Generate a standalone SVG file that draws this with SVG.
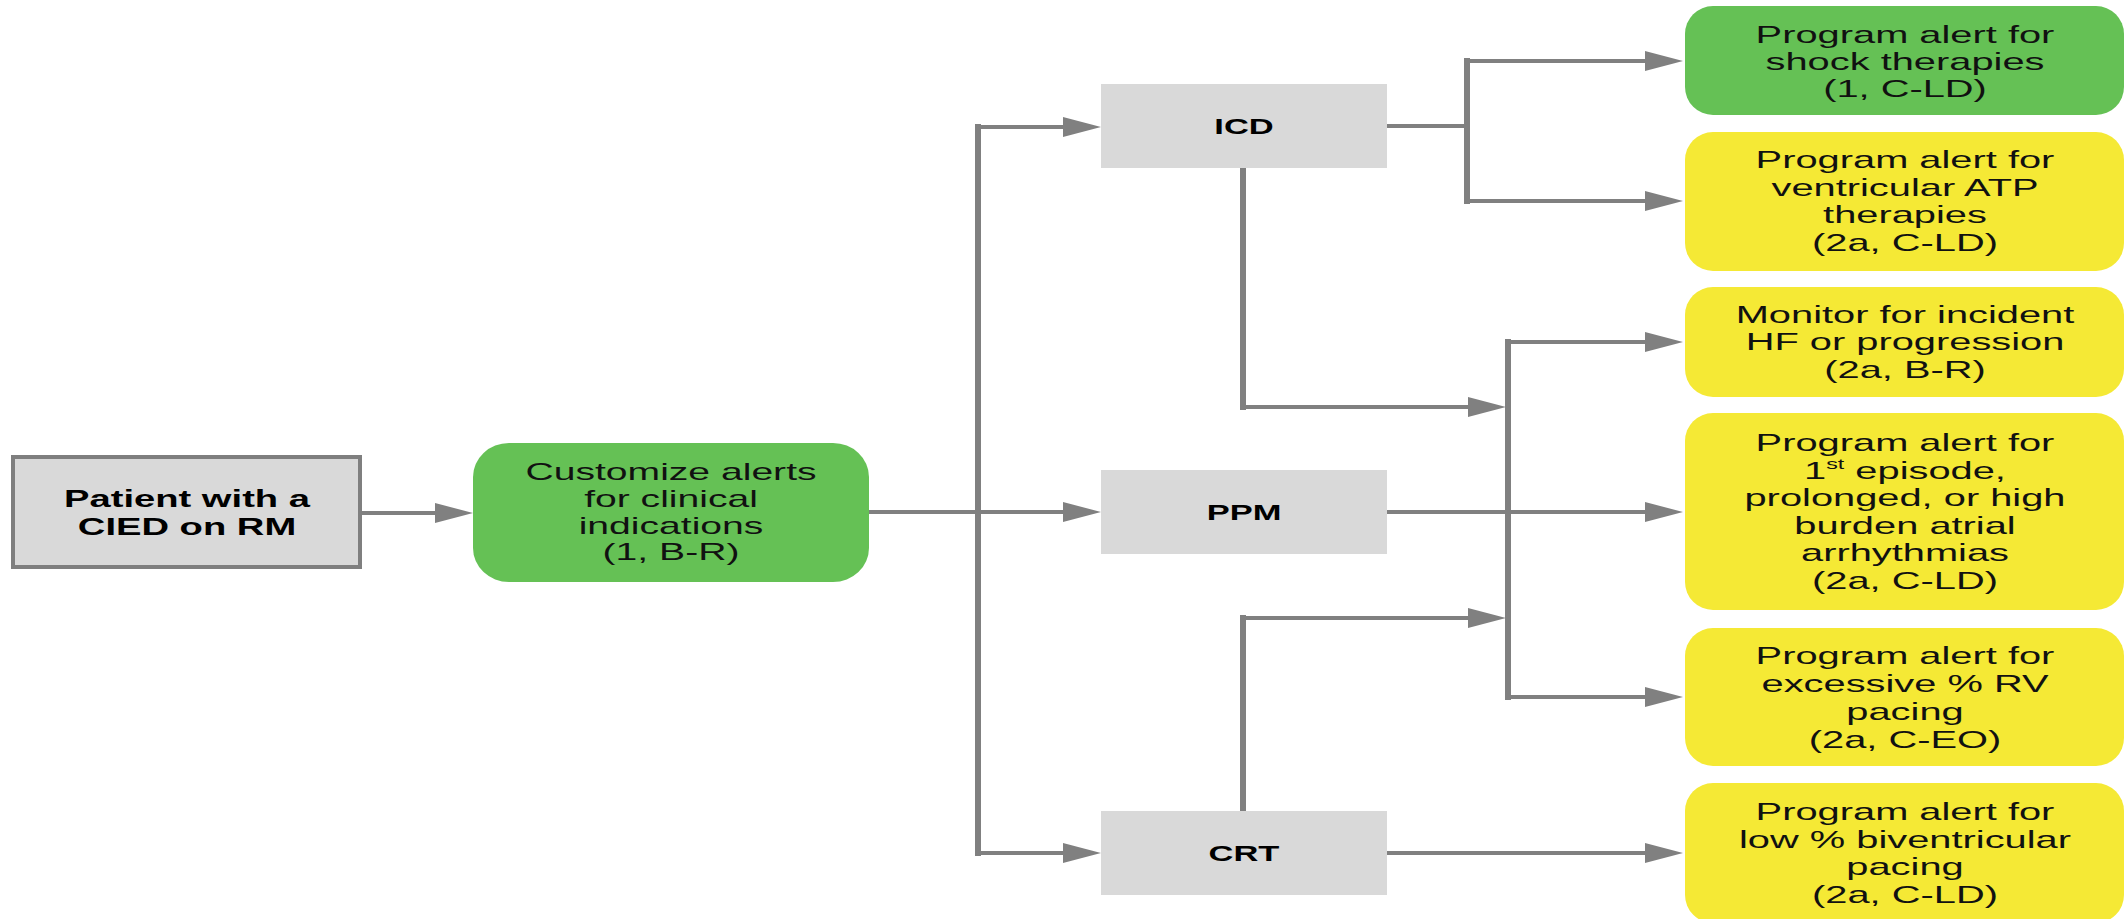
<svg xmlns="http://www.w3.org/2000/svg" width="2126" height="919" viewBox="0 0 2126 919">
  <defs>
    <style>
      .device { fill: #d9d9d9; }
      .start { fill: #d9d9d9; stroke: #7f7f7f; stroke-width: 4; }
      .green { fill: #65c155; }
      .yellow { fill: #f5e935; }
      .h { stroke: #808080; stroke-width: 4; fill: none; }
      .v { stroke: #808080; stroke-width: 6; fill: none; stroke-linecap: square; }
      .arr { marker-end: url(#head); }
      .t { font-family: "Liberation Sans", Arial, sans-serif; font-size: 24px; fill: #111; text-anchor: middle; }
      .c { font-family: "Liberation Sans", Arial, sans-serif; font-size: 23px; fill: #111; text-anchor: middle; }
      .b { font-family: "Liberation Sans", Arial, sans-serif; font-size: 23px; font-weight: bold; fill: #000; text-anchor: middle; }
    </style>
    <marker id="head" markerUnits="userSpaceOnUse" markerWidth="38" markerHeight="20" viewBox="0 0 38 20" refX="0" refY="10" orient="auto">
      <path d="M0,0 L38,10 L0,20 Z" fill="#808080"/>
    </marker>
  </defs>
  <rect width="2126" height="919" fill="#ffffff"/>

  <!-- connectors -->
  <g id="connectors">
    <!-- start to customize -->
    <path class="h arr" d="M360,513 H435"/>
    <!-- customize to trunk -->
    <path class="h" d="M869,512 H978"/>
    <path class="v" d="M978,127 V853"/>
    <path class="h arr" d="M978,127 H1063"/>
    <path class="h arr" d="M978,512 H1063"/>
    <path class="h arr" d="M978,853 H1063"/>
    <!-- ICD to its two alerts -->
    <path class="h" d="M1387,126 H1467"/>
    <path class="v" d="M1467,61 V201"/>
    <path class="h arr" d="M1467,61 H1645"/>
    <path class="h arr" d="M1467,201 H1645"/>
    <!-- ICD and CRT into shared bus -->
    <path class="v" d="M1243,168 V407"/>
    <path class="h arr" d="M1243,407 H1468"/>
    <path class="v" d="M1243,811 V618"/>
    <path class="h arr" d="M1243,618 H1468"/>
    <path class="v" d="M1508,342 V697"/>
    <path class="h arr" d="M1508,342 H1645"/>
    <path class="h arr" d="M1508,697 H1645"/>
    <!-- PPM straight through -->
    <path class="h arr" d="M1387,512 H1645"/>
    <!-- CRT to low BiV pacing -->
    <path class="h arr" d="M1387,853 H1645"/>
  </g>

  <g id="patient">
    <rect class="start" x="13" y="457" width="347" height="110"/>
    <text class="b" transform="translate(187,0) scale(1.66,1)"><tspan x="0" y="507">Patient with a</tspan><tspan x="0" y="535">CIED on RM</tspan></text>
  </g>

  <g id="customize">
    <rect class="green" x="473" y="443" width="396" height="139" rx="36" ry="34"/>
    <text class="c" transform="translate(671,0) scale(1.7,1)"><tspan x="0" y="480">Customize alerts</tspan><tspan x="0" y="507">for clinical</tspan><tspan x="0" y="534">indications</tspan><tspan x="0" y="560">(1, B-R)</tspan></text>
  </g>

  <g id="icd">
    <rect class="device" x="1101" y="84" width="286" height="84"/>
    <text class="b" transform="translate(1244,0) scale(1.5,1)"><tspan x="0" y="134">ICD</tspan></text>
  </g>

  <g id="ppm">
    <rect class="device" x="1101" y="470" width="286" height="84"/>
    <text class="b" transform="translate(1244,0) scale(1.5,1)"><tspan x="0" y="520">PPM</tspan></text>
  </g>

  <g id="crt">
    <rect class="device" x="1101" y="811" width="286" height="84"/>
    <text class="b" transform="translate(1244,0) scale(1.5,1)"><tspan x="0" y="861">CRT</tspan></text>
  </g>

  <g id="shock">
    <rect class="green" x="1685" y="6" width="439" height="109" rx="28" ry="28"/>
    <text class="t" transform="translate(1905,0) scale(1.66,1)"><tspan x="0" y="43">Program alert for</tspan><tspan x="0" y="70">shock therapies</tspan><tspan x="0" y="97">(1, C-LD)</tspan></text>
  </g>

  <g id="atp">
    <rect class="yellow" x="1685" y="132" width="439" height="139" rx="28" ry="28"/>
    <text class="t" transform="translate(1905,0) scale(1.66,1)"><tspan x="0" y="168">Program alert for</tspan><tspan x="0" y="196">ventricular ATP</tspan><tspan x="0" y="223">therapies</tspan><tspan x="0" y="251">(2a, C-LD)</tspan></text>
  </g>

  <g id="hf">
    <rect class="yellow" x="1685" y="287" width="439" height="110" rx="28" ry="28"/>
    <text class="t" transform="translate(1905,0) scale(1.66,1)"><tspan x="0" y="323">Monitor for incident</tspan><tspan x="0" y="350">HF or progression</tspan><tspan x="0" y="378">(2a, B-R)</tspan></text>
  </g>

  <g id="atrial">
    <rect class="yellow" x="1685" y="413" width="439" height="197" rx="28" ry="28"/>
    <text class="t" transform="translate(1905,0) scale(1.66,1)"><tspan x="0" y="451">Program alert for</tspan><tspan x="0" y="479">1<tspan font-size="14" dy="-10">st</tspan><tspan dy="10"> episode,</tspan></tspan><tspan x="0" y="506">prolonged, or high</tspan><tspan x="0" y="534">burden atrial</tspan><tspan x="0" y="561">arrhythmias</tspan><tspan x="0" y="589">(2a, C-LD)</tspan></text>
  </g>

  <g id="rv">
    <rect class="yellow" x="1685" y="628" width="439" height="138" rx="28" ry="28"/>
    <text class="t" transform="translate(1905,0) scale(1.66,1)"><tspan x="0" y="664">Program alert for</tspan><tspan x="0" y="692">excessive % RV</tspan><tspan x="0" y="720">pacing</tspan><tspan x="0" y="748">(2a, C-EO)</tspan></text>
  </g>

  <g id="biv">
    <rect class="yellow" x="1685" y="783" width="439" height="140" rx="28" ry="28"/>
    <text class="t" transform="translate(1905,0) scale(1.66,1)"><tspan x="0" y="820">Program alert for</tspan><tspan x="0" y="848">low % biventricular</tspan><tspan x="0" y="875">pacing</tspan><tspan x="0" y="903">(2a, C-LD)</tspan></text>
  </g>
</svg>
